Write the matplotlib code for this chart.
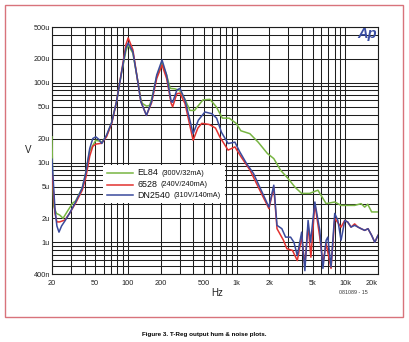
import matplotlib
matplotlib.use('Agg')
import matplotlib.pyplot as plt
from matplotlib.patches import Rectangle

# frequencies (Hz) and levels (uV)
freq_el84 = [20, 20.3, 20.8, 22, 23.5, 25.3, 28, 31, 33, 38, 41, 44.5, 50.6, 55, 57.4,
             63.5, 71, 78.5, 87.5, 95.8, 100.5, 111, 122, 131.5, 136, 148, 158, 165, 184,
             206, 227, 245, 270, 300, 335, 372, 410, 490, 569, 650, 740, 855, 990, 1095,
             1325, 1580, 1920, 2200, 2540, 2980, 3450, 3970, 4700, 5600, 6670, 8000, 9150,
             9900, 11200, 12200, 14000, 15100, 16100, 17500, 20000]
el84_uv = [21, 6, 2.8, 2.3, 2.2, 2.0, 2.5, 3.1, 3.3, 4.8, 7.5, 14, 19, 18.5, 18,
           21.5, 32, 58, 135, 250, 298, 235, 113, 62, 55, 51, 52, 62, 120,
           175, 125, 85, 84, 80, 62, 45, 45, 61, 62, 50, 36, 36, 31, 25,
           23, 18, 13, 11.2, 8, 6.3, 4.9, 4.1, 4.1, 4.5, 3.05, 3.2, 2.9,
           2.9, 2.9, 2.9, 3.05, 2.76, 3.0, 2.4, 2.4]

freq_6528 = [20, 21.3, 22.2, 23.5, 26.3, 29, 33, 38, 41, 44.5, 47.5, 50.6, 55, 57.4, 63.5,
             71, 78.5, 87.5, 95.8, 100.5, 111, 122, 131.5, 148, 165, 184, 206, 227, 250,
             258, 282, 301, 335, 398, 440, 478, 560, 640, 700, 835, 965, 1090, 1330, 1635,
             1985, 2200, 2355, 2700, 2900, 3270, 3620, 3970, 4250, 4550, 4830, 5250, 5830,
             6230, 6670, 7400, 8000, 9150, 9900, 10550, 11300, 12200, 13100, 14000, 15100,
             16200, 17500, 18700, 20000]
v6528_uv = [8, 2.3, 1.8, 1.8, 1.9, 2.3, 3.1, 4.5, 6.5, 12, 16, 17, 17.3, 17.5, 21,
            31, 58, 140, 300, 365, 260, 113, 58, 39, 56, 113, 167, 113, 55,
            50, 73, 74, 55, 19, 27, 31, 30, 27, 21, 14.3, 15.7, 12, 8, 4.5,
            2.64, 4.9, 1.48, 1.06, 0.83, 0.79, 0.59, 1.16, 0.51, 1.63, 0.65, 3.05, 1.16,
            0.54, 0.96, 0.47, 2.0, 1.55, 1.88, 1.79, 1.55, 1.7, 1.55, 1.48, 1.41,
            1.48, 1.22, 1.0, 1.22]

freq_dn2540 = [20, 21.3, 22.2, 23.2, 24.5, 26.3, 29, 33, 38, 41, 44.5, 47.5, 50.6, 54, 57.4,
               63.5, 71, 78.5, 87.5, 95.8, 100.5, 111, 122, 131.5, 148, 165, 184, 206, 227,
               250, 258, 282, 301, 335, 398, 445, 511, 590, 655, 725, 835, 965, 1070, 1235,
               1430, 1635, 1985, 2200, 2355, 2610, 2825, 3140, 3370, 3620, 3970, 4250, 4550,
               4790, 5250, 5830, 6230, 6670, 6910, 7400, 8000, 8550, 9150, 9900, 10550,
               11300, 12200, 13100, 14000, 15100, 16200, 17500, 18700, 20000]
dn2540_uv = [11, 2.6, 1.6, 1.34, 1.6, 1.85, 2.3, 3.2, 4.8, 7.5, 15, 20, 21, 19.5, 17.3,
             22, 32, 58, 137, 271, 315, 245, 113, 58, 39, 58, 125, 193, 125,
             58, 57, 81, 85, 61, 23, 34, 43, 41, 36, 24, 17.3, 18, 13.6, 9.7,
             7.3, 4.9, 2.76, 5.2, 1.63, 1.48, 1.16, 1.16, 1.0, 0.68, 1.34, 0.44, 1.88,
             1.0, 3.2, 1.41, 0.47, 1.06, 1.16, 0.49, 2.3, 1.88, 1.06, 1.88, 1.79,
             1.55, 1.63, 1.55, 1.48, 1.41, 1.48, 1.22, 1.0, 1.22]

series_names = ['EL84', '6528', 'DN2540']
series_notes = ['(300V/32mA)', '(240V/240mA)', '(310V/140mA)']
series_colors = ['#78b543', '#e2312f', '#3a4a9c']

x_ticks = [20, 50, 100, 200, 500, 1000, 2000, 5000, 10000, 20000]
x_labels = ['20', '50', '100', '200', '500', '1k', '2k', '5k', '10k', '20k']
y_ticks = [400e-9, 1e-6, 2e-6, 5e-6, 10e-6, 20e-6, 50e-6, 100e-6, 200e-6, 500e-6]
y_labels = ['400n', '1u', '2u', '5u', '10u', '20u', '50u', '100u', '200u', '500u']

plt.rcParams['font.family'] = ['Liberation Sans', 'DejaVu Sans']

fig = plt.figure(figsize=(4.09, 3.42), dpi=100)
ax = fig.add_axes([0.1271, 0.1988, 0.797, 0.7222])
ax.set_xscale('log')
ax.set_yscale('log')
ax.set_xlim(20, 20000)
ax.set_ylim(400e-9, 500e-6)

# full 1..9 log grid
x_minor = [m * 10 ** e for e in range(1, 5) for m in range(1, 10) if 20 <= m * 10 ** e <= 20000]
y_minor = [m * 10.0 ** e for e in range(-7, -3) for m in range(1, 10)
           if 399e-9 <= m * 10.0 ** e <= 501e-6]
ax.set_xticks(x_minor, minor=True)
ax.set_yticks(y_minor, minor=True)
ax.set_xticks(x_ticks, labels=x_labels)
ax.set_yticks(y_ticks, labels=y_labels)
ax.xaxis.set_minor_formatter(plt.NullFormatter())
ax.yaxis.set_minor_formatter(plt.NullFormatter())
ax.grid(True, which='both', color='#1e1e1e', lw=0.75, zorder=1)
ax.set_axisbelow(True)
ax.tick_params(which='both', length=0)
ax.tick_params(axis='x', pad=4, labelsize=5.3, colors='#222222')
ax.tick_params(axis='y', pad=1.5, labelsize=5.3, colors='#222222')
ax.get_xticklabels()[-1].set_horizontalalignment('right')
for s in ax.spines.values():
    s.set_color('#1e1e1e')
    s.set_linewidth(0.8)

curves = [(freq_el84, el84_uv), (freq_6528, v6528_uv), (freq_dn2540, dn2540_uv)]
for (f, v), c in zip(curves, series_colors):
    ax.plot(f, [u * 1e-6 for u in v], color=c, lw=1.1, zorder=3)

# legend box
ax.add_patch(Rectangle((0.158, 0.287), 0.373, 0.154, transform=ax.transAxes,
                       facecolor='white', edgecolor='none', zorder=4))
rows_y = [0.409, 0.362, 0.318]
for name, note, c, yy in zip(series_names, series_notes, series_colors, rows_y):
    ax.plot([0.169, 0.248], [yy, yy], transform=ax.transAxes, color=c, lw=1.1, zorder=5)
    t = ax.text(0.261, yy, name, transform=ax.transAxes, fontsize=6.4, va='center',
                color='#111111', zorder=5)
    ax.annotate(note, xy=(1, 0), xycoords=t, xytext=(2.5, 0.6), textcoords='offset points',
                fontsize=5.2, va='bottom', color='#111111', zorder=5)

ax.text(0.997, 0.954, 'Ap', transform=ax.transAxes, ha='right', va='baseline',
        fontsize=10.5, fontweight='bold', fontstyle='italic', color='#3a4ea3')

fig.text(0.068, 0.561, 'V', fontsize=7, ha='center', va='center', color='#222222')
fig.text(0.53, 0.143, 'Hz', fontsize=7, ha='center', va='center', color='#222222')
fig.text(0.863, 0.146, '081089 - 15', fontsize=3.8, ha='center', va='center', color='#333333')

fig.add_artist(Rectangle((0.0122, 0.0731), 0.973, 0.912, transform=fig.transFigure,
                         fill=False, edgecolor='#d8737b', lw=1))
fig.text(0.499, 0.021, 'Figure 3. T-Reg output hum & noise plots.', fontsize=4.5,
         fontweight='bold', ha='center', va='center')

fig.savefig('out.png', dpi=100)
